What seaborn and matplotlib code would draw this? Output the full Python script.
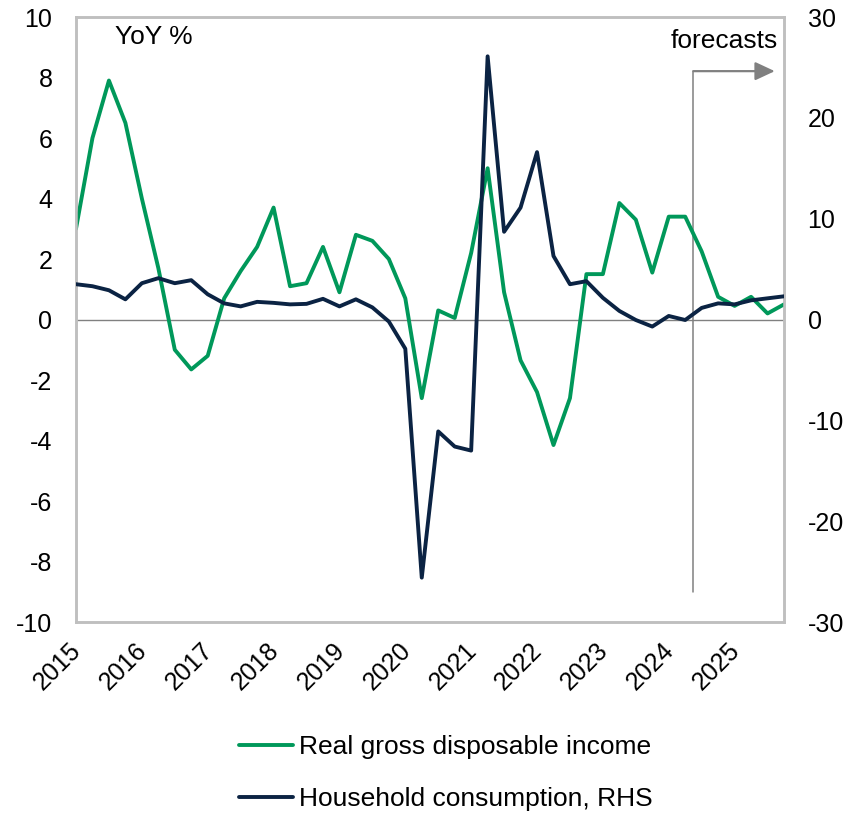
import numpy as np
import pandas as pd
import matplotlib
matplotlib.use("Agg")
import matplotlib.pyplot as plt
import seaborn as sns
from matplotlib.transforms import ScaledTranslation
from matplotlib.lines import Line2D

# ---- data (quarterly, 2015Q1 .. 2025Q4) ----
years = ["2015", "2016", "2017", "2018", "2019", "2020",
         "2021", "2022", "2023", "2024", "2025"]
rgdi = [3.0, 6.0, 7.9, 6.5, 4.0, 1.7, -1.0, -1.65, -1.2, 0.7, 1.6, 2.4,
        3.7, 1.1, 1.2, 2.4, 0.9, 2.8, 2.6, 2.0, 0.7, -2.6, 0.3, 0.05,
        2.2, 5.0, 0.9, -1.35, -2.4, -4.15, -2.6, 1.5, 1.5, 3.85, 3.3, 1.55,
        3.4, 3.4, 2.25, 0.75, 0.45, 0.75, 0.2, 0.5]
consumption = [3.5, 3.3, 2.9, 2.0, 3.6, 4.1, 3.6, 3.9, 2.5, 1.6, 1.3, 1.75,
               1.65, 1.5, 1.55, 2.05, 1.3, 2.0, 1.2, -0.2, -2.9, -25.6, -11.1, -12.6,
               -13.0, 26.1, 8.7, 11.1, 16.6, 6.3, 3.5, 3.8, 2.15, 0.85, -0.05, -0.7,
               0.35, -0.05, 1.15, 1.6, 1.5, 1.9, 2.1, 2.3]
forecast_start = 37.5  # between 2024Q2 and 2024Q3

rgdi_label = "Real gross disposable income"
cons_label = "Household consumption, RHS"

df = pd.DataFrame({"q": np.arange(len(rgdi)), "rgdi": rgdi, "cons": consumption})

sns.set_style("white")
plt.rcParams["font.family"] = ["Liberation Sans", "DejaVu Sans"]
plt.rcParams["axes.unicode_minus"] = False
plt.rcParams["text.color"] = "black"

GREEN = "#00985A"
NAVY = "#0B2343"
GRID = "#BFBFBF"
ARROW = "#808080"

fig = plt.figure(figsize=(8.64, 8.14), dpi=100)
ax = fig.add_axes([76 / 864, 1 - 622 / 814, (784 - 76) / 864, (622 - 17) / 814])
ax2 = ax.twinx()

ax.axhline(0, color="#808080", lw=1.0, zorder=1)

sns.lineplot(data=df, x="q", y="rgdi", ax=ax, color=GREEN, lw=2.8,
             legend=False, zorder=3)
sns.lineplot(data=df, x="q", y="cons", ax=ax2, color=NAVY, lw=2.8,
             legend=False, zorder=3)

ax.set_xlim(0, len(rgdi) - 1)
ax.set_ylim(-10, 10)
ax2.set_ylim(-30, 30)
ax.set_yticks(np.arange(-10, 11, 2))
ax2.set_yticks(np.arange(-30, 31, 10))
ax.set_xticks(np.arange(0, 4 * len(years), 4))
ax.set_xticklabels(years)
for a in (ax, ax2):
    a.set_xlabel("")
    a.set_ylabel("")
    for s in a.spines.values():
        s.set_visible(True)
        s.set_color(GRID)
        s.set_linewidth(1.8)

ax.tick_params(axis="y", length=0, pad=17, labelsize=18, colors="black")
ax2.tick_params(axis="y", length=0, pad=17, labelsize=18, colors="black")
ax.tick_params(axis="x", length=0, pad=18, labelsize=18, colors="black")
for lab in ax.get_xticklabels():
    lab.set_rotation(45)
    lab.set_rotation_mode("anchor")
    lab.set_ha("right")
    lab.set_va("center")
    lab.set_transform(lab.get_transform() + ScaledTranslation(0.015, 0, fig.dpi_scale_trans))

# forecast marker
ax.plot([forecast_start, forecast_start], [-9.0, 8.21], color=ARROW, lw=1.1, zorder=2)
ax.annotate("", xy=(42.44, 8.21), xytext=(forecast_start, 8.21),
            arrowprops=dict(arrowstyle="-|>,head_length=0.6,head_width=0.28",
                            color=ARROW, lw=1.6, shrinkA=0, shrinkB=0,
                            mutation_scale=20), zorder=2)
ax.text(0.9915, 0.960, "forecasts", transform=ax.transAxes, ha="right",
        va="center", fontsize=19, color="black")
ax.text(0.055, 0.967, "YoY %", transform=ax.transAxes, ha="left",
        va="center", fontsize=19, color="black")

# legend
handles = [Line2D([], [], color=GREEN, lw=2.8), Line2D([], [], color=NAVY, lw=2.8)]
leg = fig.legend(handles, [rgdi_label, cons_label], loc="center",
                 bbox_to_anchor=(0.516, 0.0504), frameon=False, fontsize=19,
                 handlelength=2.05, handletextpad=0.2, labelspacing=1.05)
for t in leg.get_texts():
    t.set_color("black")

fig.savefig("out.png", dpi=100)
